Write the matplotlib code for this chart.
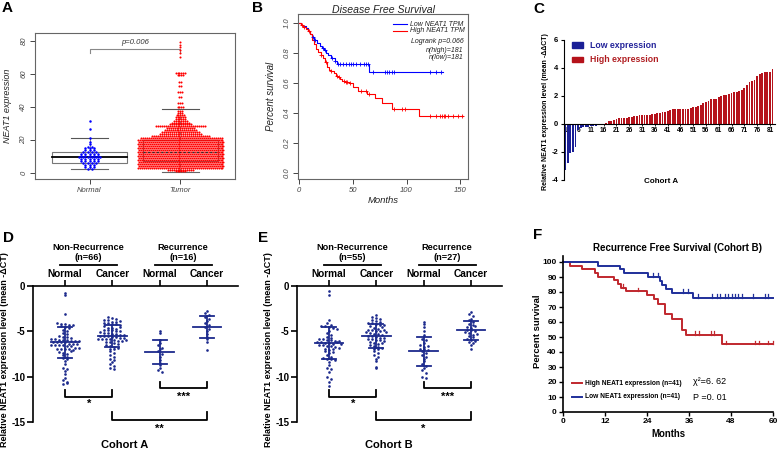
import numpy as np
import matplotlib
matplotlib.use('Agg')
import matplotlib.pyplot as plt
from matplotlib.patches import Rectangle

plt.rcParams['font.family'] = ['Liberation Sans', 'DejaVu Sans']

W, H = 778, 454

# ---------------- Panel A data ----------------
a_groups = ['Normal', 'Tumor']
a_normal_levels = [31.7, 26.5, 21.0, 19.0, 17.8, 16.0, 15.0, 13.8, 12.5, 11.6, 10.6, 9.6, 8.6, 7.4, 6.2, 5.0, 3.8, 2.6]
a_normal_counts = [1, 1, 1, 1, 1, 2, 3, 3, 4, 5, 5, 6, 5, 5, 4, 3, 3, 2]
a_tumor_levels = [1.0, 2.0, 3.0, 4.2, 5.4, 6.6, 7.8, 9.0, 10.2, 11.4, 12.6, 13.8, 15.0, 16.2, 17.4,
                  18.6, 19.8, 21.0, 22.2, 23.4, 24.6, 25.8, 27.0, 28.2, 29.4, 30.6, 31.8, 33.0,
                  34.2, 35.4, 36.6, 37.8, 39.8, 42.6, 46.2, 49.3, 52.7, 55.3, 59.5, 60.4,
                  70.5, 72.9, 74.5, 76.2, 77.6, 79.6]
a_tumor_counts = [6, 14, 44, 44, 44, 44, 44, 44, 44, 44, 44, 44, 44, 44, 44,
                  44, 44, 42, 30, 22, 20, 17, 15, 26, 12, 10, 8, 6,
                  6, 5, 3, 3, 4, 3, 2, 3, 2, 2, 4, 6,
                  1, 1, 1, 1, 1, 1]
a_normal_box = [2.2, 6.0, 9.5, 12.5, 21.0]   # low whisker, Q1, median, Q3, high whisker
a_tumor_box = [0.8, 7.5, 12.7, 20.0, 39.0]
a_ptext = 'p=0.006'

# ---------------- Panel B data ----------------
b_low_t = [0, 2, 4, 6, 8, 10, 12, 14, 17, 19, 21, 23, 25, 27, 30, 33, 35, 65, 134]
b_low_s = [1.0, 0.99, 0.98, 0.965, 0.95, 0.93, 0.905, 0.885, 0.87, 0.85, 0.835, 0.82, 0.80, 0.785, 0.77, 0.75, 0.73, 0.675, 0.675]
b_low_censor = [13, 15, 22, 24, 31, 33.5, 36, 38, 41, 44, 46, 48, 50, 53, 57, 60, 62, 64, 69, 80, 82, 84, 86, 88, 122, 127, 132]
b_high_t = [0, 2, 4, 6, 8, 10, 12, 14, 16, 18, 20, 22, 24, 26, 28, 30, 32, 34, 36, 38, 40, 43, 46, 50, 55, 63, 71, 77, 86, 111, 152]
b_high_s = [1.0, 0.99, 0.975, 0.96, 0.945, 0.925, 0.89, 0.86, 0.83, 0.805, 0.785, 0.765, 0.74, 0.71, 0.69, 0.68, 0.665, 0.65, 0.64, 0.63, 0.615, 0.605, 0.60, 0.575, 0.55, 0.53, 0.50, 0.465, 0.425, 0.38, 0.38]
b_high_censor = [3, 5, 9, 20, 25, 30, 35, 37, 42, 44, 45, 47, 58, 62, 65, 88, 96, 98, 122, 127, 131, 133, 135, 136, 138, 143, 148, 151]
b_legend = ['Low NEAT1 TPM', 'High NEAT1 TPM']
b_stats = ['Logrank p=0.066', 'n(high)=181', 'n(low)=181']

# ---------------- Panel C data ----------------
c_values = [-3.3, -2.8, -2.1, -2.0, -1.65, -0.45, -0.3, -0.22, -0.2, -0.18, -0.15, -0.14, -0.12, -0.1, -0.08,
            0.03, 0.1, 0.18, 0.25, 0.3, 0.38, 0.4, 0.42, 0.43, 0.45, 0.5, 0.52, 0.55, 0.58, 0.62,
            0.63, 0.65, 0.65, 0.66, 0.68, 0.75, 0.8, 0.82, 0.83, 0.85, 0.95, 1.0, 1.05, 1.05, 1.05,
            1.06, 1.07, 1.08, 1.1, 1.12, 1.19, 1.2, 1.29, 1.35, 1.48, 1.55, 1.65, 1.76, 1.78, 1.8,
            1.95, 2.0, 2.05, 2.1, 2.15, 2.25, 2.27, 2.3, 2.35, 2.45, 2.6, 2.8, 3.0, 3.1, 3.15,
            3.45, 3.57, 3.65, 3.7, 3.7, 3.75, 3.95]
c_ticks = list(range(1, 83, 5))
c_legend = ['Low expression', 'High expression']

# ---------------- Panel D / E data ----------------
de_cats = ['Normal', 'Cancer', 'Normal', 'Cancer']
d_norm_nr = [-0.8, -1.0, -3.1,
             -4.1, -4.2, -4.2, -4.3, -4.3, -4.4, -4.5, -4.6,
             -4.9, -5.0, -5.2, -5.3,
             -5.5, -5.6, -5.6, -5.7, -5.8, -5.8,
             -6.0, -6.0, -6.0, -6.1, -6.1, -6.1, -6.2, -6.2, -6.2, -6.2,
             -6.4, -6.4, -6.4, -6.5, -6.5, -6.5, -6.5, -6.6, -6.6,
             -6.8, -6.8, -6.9, -6.9, -7.0, -7.0, -7.1,
             -7.3, -7.4, -7.5, -7.6,
             -7.8, -7.9, -8.0,
             -8.3, -8.6, -9.0, -9.1, -9.4, -9.7,
             -10.2, -10.4, -10.6, -10.8, -10.7, -7.2]
d_canc_nr = [-3.4, -3.5, -3.6, -3.7, -3.8,
             -4.0, -4.0, -4.1, -4.1, -4.2, -4.2, -4.3, -4.4,
             -4.6, -4.6, -4.7, -4.8, -4.8, -4.9, -5.0,
             -5.1, -5.2, -5.2, -5.3, -5.3, -5.4, -5.4, -5.5, -5.5, -5.5,
             -5.6, -5.6, -5.7, -5.7, -5.8, -5.8, -5.9, -5.9, -6.0,
             -6.1, -6.1, -6.2, -6.2, -6.3, -6.4, -6.5,
             -6.6, -6.7, -6.8, -6.9, -7.0,
             -7.2, -7.4, -7.6, -7.8,
             -8.0, -8.2, -8.4, -8.6, -8.8, -9.0, -9.2,
             -4.5, -5.0, -6.0, -3.9]
d_norm_r = [-5.0, -5.2, -6.0, -6.3, -6.5, -6.8, -7.0, -7.2, -7.5, -7.8, -8.2, -8.5, -8.7, -9.0, -9.3, -9.5]
d_canc_r = [-2.8, -3.0, -3.2, -3.4, -3.6, -3.9, -4.1, -4.3, -4.5, -4.7, -5.0, -5.3, -5.6, -5.9, -6.2, -7.1]
d_means = [-6.2, -5.5, -7.3, -4.5]
d_sds = [1.7, 1.25, 1.35, 1.2]
d_headers = ['Non-Recurrence\n(n=66)', 'Recurrence\n(n=16)']
d_stars = ['*', '***', '**']

e_norm_nr = [-0.6, -1.0, -3.8,
             -4.1, -4.3, -4.4, -4.4, -4.5, -4.6,
             -5.0, -5.2, -5.4, -5.6,
             -5.8, -5.9, -6.0, -6.0, -6.1, -6.1, -6.2, -6.2, -6.3, -6.3, -6.4,
             -6.5, -6.5, -6.6, -6.6, -6.7, -6.8,
             -7.0, -7.1, -7.2, -7.4, -7.6,
             -7.8, -7.9, -8.0, -8.1,
             -8.4, -8.7, -9.0, -9.1,
             -9.5, -10.0, -10.3, -10.6, -11.0,
             -6.9, -5.7, -4.7, -6.2, -6.4, -7.3, -8.2]
e_canc_nr = [-3.2, -3.4, -3.5, -3.7, -3.9,
             -4.0, -4.1, -4.1, -4.2, -4.3, -4.3, -4.4,
             -4.6, -4.7, -4.8, -4.9, -5.0, -5.0,
             -5.1, -5.2, -5.3, -5.3, -5.4, -5.5, -5.5, -5.6,
             -5.7, -5.8, -5.9, -6.0, -6.0, -6.1, -6.2,
             -6.3, -6.4, -6.5, -6.6, -6.7,
             -6.8, -6.9, -7.0, -7.2,
             -7.4, -7.6, -7.8, -8.0, -8.3, -8.9, -9.0,
             -4.5, -5.1, -5.7, -6.3, -3.6, -4.9]
e_norm_r = [-4.0, -4.2, -4.5, -5.0, -5.4, -5.8, -6.0, -6.3, -6.5, -6.7, -6.9, -7.0, -7.1, -7.2,
            -7.4, -7.6, -7.8, -8.0, -8.3, -8.6, -8.8, -9.0, -9.3, -9.6, -10.0, -10.2, -6.6]
e_canc_r = [-2.9, -3.1, -3.3, -3.6, -3.8, -4.0, -4.2, -4.3, -4.5, -4.6, -4.8, -4.9, -5.0, -5.1,
            -5.2, -5.4, -5.5, -5.6, -5.8, -6.0, -6.1, -6.2, -6.3, -6.5, -6.9, -4.4, -5.3]
e_means = [-6.3, -5.5, -7.2, -4.9]
e_sds = [1.8, 1.35, 1.6, 1.05]
e_headers = ['Non-Recurrence\n(n=55)', 'Recurrence\n(n=27)']
e_stars = ['*', '***', '*']

# ---------------- Panel F data ----------------
f_low_t = [0, 10, 16.3, 17.3, 24.4, 27.7, 28.2, 29.4, 31, 37.2, 60]
f_low_s = [100, 97.6, 95.1, 92.7, 90.2, 87.6, 84.9, 82.2, 79.4, 76.2, 76.2]
f_low_censor = [25.6, 27.0, 34.4, 35.8, 38.7, 42.5, 43.9, 44.9, 46.3, 47.2, 48.2, 49.1, 50.1, 51.0, 54.4, 57.7, 58.7]
f_high_t = [0, 2, 5.3, 9.1, 10.1, 14.5, 15.7, 16.6, 18, 24, 26, 27, 29, 31, 34, 35, 45.5, 60]
f_high_s = [100, 97.6, 95.1, 92.7, 90.2, 87.8, 85.4, 82.9, 80.5, 78.0, 75.4, 72.0, 65.2, 61.8, 55.0, 51.5, 45.3, 45.3]
f_high_censor = [17.2, 21.3, 37.7, 38.9, 42.4, 43.1, 46.5, 54.9, 55.9, 58.7, 60]
f_legend = ['High NEAT1 expression (n=41)', 'Low NEAT1 expression (n=41)']
f_stats = ['χ²=6. 62', 'P =0. 01']

# ---------------- helpers ----------------
NAVY = '#1c2a8c'
DRED = '#b5121b'
DBLUE = '#1a1f96'


def fax(x0, y0, x1, y1):
    return fig.add_axes([x0 / W, 1 - y1 / H, (x1 - x0) / W, (y1 - y0) / H])


def row_positions(vals, center, bin_h, dx):
    vals = np.asarray(vals, float)
    keys = np.round(vals / bin_h).astype(int)
    xs = np.zeros_like(vals)
    for k in np.unique(keys):
        idx = np.where(keys == k)[0]
        n = len(idx)
        xs[idx] = center + (np.arange(n) - (n - 1) / 2) * dx
    return xs


def step_at(t, s, c):
    t = np.asarray(t)
    s = np.asarray(s)
    i = np.searchsorted(t, c, side='right') - 1
    return s[np.clip(i, 0, len(s) - 1)]


fig = plt.figure(figsize=(W / 100, H / 100), dpi=100)

# ================= Panel A =================
axA = fax(35, 33, 235, 179)
axA.set_xlim(0.4, 2.6)
axA.set_ylim(-3.6, 84.8)
for ctr, bx in zip([1, 2], [a_normal_box, a_tumor_box]):
    lo, q1, med, q3, hi = bx
    axA.add_patch(Rectangle((ctr - 0.41, q1), 0.82, q3 - q1, facecolor='white',
                            edgecolor='#777777', lw=0.8, zorder=1))
    axA.plot([ctr, ctr], [lo, q1], color='#888888', lw=0.7, ls='--', zorder=1)
    axA.plot([ctr, ctr], [q3, hi], color='#888888', lw=0.7, ls='--', zorder=1)
    axA.plot([ctr - 0.2, ctr + 0.2], [lo, lo], color='#666666', lw=0.8, zorder=1)
    axA.plot([ctr - 0.2, ctr + 0.2], [hi, hi], color='#555555', lw=0.8, zorder=4 if ctr == 2 else 1)
    if ctr == 1:
        axA.plot([ctr - 0.41, ctr + 0.41], [med, med], color='black', lw=1.3, zorder=2)

# normal swarm
nx, ny = [], []
for i, (lev, cnt) in enumerate(zip(a_normal_levels, a_normal_counts)):
    for k in range(cnt):
        nx.append(1 + (k - (cnt - 1) / 2) * 0.045)
        ny.append(lev)
axA.scatter(nx, ny, s=3.2, color='#0000ff', linewidths=0, zorder=3)
# tumor swarm
tx, ty = [], []
for i, (lev, cnt) in enumerate(zip(a_tumor_levels, a_tumor_counts)):
    shift = 0.011 if i % 2 else 0.0
    for k in range(cnt):
        tx.append(2 + (k - (cnt - 1) / 2) * 0.0215 + shift * (cnt > 30))
        ty.append(lev)
axA.scatter(tx, ty, s=2.2, color='#ff0000', linewidths=0, zorder=3)
axA.plot([2 - 0.41, 2 + 0.41], [a_tumor_box[2]] * 2, color='#333333', lw=0.8, ls=(0, (2, 2)), zorder=4)

axA.plot([1, 1, 2, 2], [72.5, 75, 75, 72.5], color='#888888', lw=0.8)
axA.text(1.5, 79, a_ptext, ha='center', va='center', fontsize=5.5, style='italic', color='#333333')
axA.set_yticks([0, 20, 40, 60, 80])
axA.set_yticklabels(['0', '20', '40', '60', '80'], rotation=90, va='center', fontsize=5.5, style='italic')
axA.set_xticks([1, 2])
axA.set_xticklabels(a_groups, fontsize=5.5, style='italic')
axA.tick_params(length=3.5, width=0.7, colors='#444444', pad=2)
for sp in axA.spines.values():
    sp.set_color('#666666')
    sp.set_linewidth(0.8)
axA.text((7.5 - 35) / 200, 0.5, 'NEAT1 expression', transform=axA.transAxes, rotation=90,
         ha='center', va='center', fontsize=6.5, style='italic', color='#222222')

# ================= Panel B =================
axB = fax(298, 14, 468, 179)
axB.set_xlim(-1, 157)
axB.set_ylim(-0.04, 1.06)
axB.step(b_low_t, b_low_s, where='post', color='#0000ff', lw=0.8)
axB.step(b_high_t, b_high_s, where='post', color='#ff0000', lw=0.8)
axB.plot(b_low_censor, step_at(b_low_t, b_low_s, b_low_censor), ls='none', marker='+',
         ms=3.5, mew=0.6, color='#0000ff')
axB.plot(b_high_censor, step_at(b_high_t, b_high_s, b_high_censor), ls='none', marker='+',
         ms=3.5, mew=0.6, color='#ff0000')
axB.plot([87, 100], [0.993, 0.993], color='#0000ff', lw=0.8)
axB.plot([87, 100], [0.947, 0.947], color='#ff0000', lw=0.8)
axB.text(103, 0.993, b_legend[0], fontsize=5, style='italic', va='center', color='#222222')
axB.text(103, 0.947, b_legend[1], fontsize=5, style='italic', va='center', color='#222222')
for yy, s in zip([0.875, 0.82, 0.768], b_stats):
    axB.text(153, yy, s, fontsize=5, style='italic', va='center', ha='right', color='#222222')
axB.set_yticks([0, 0.2, 0.4, 0.6, 0.8, 1.0])
axB.set_yticklabels(['0.0', '0.2', '0.4', '0.6', '0.8', '1.0'], rotation=90, va='center',
                    fontsize=5.5, style='italic')
axB.set_xticks([0, 50, 100, 150])
axB.set_xticklabels(['0', '50', '100', '150'], fontsize=5.5, style='italic')
axB.tick_params(length=3.5, width=0.7, colors='#444444', pad=2)
for sp in axB.spines.values():
    sp.set_color('#666666')
    sp.set_linewidth(0.8)
axB.text((271 - 298) / 170, 0.5, 'Percent survival', transform=axB.transAxes, rotation=90,
         ha='center', va='center', fontsize=7, style='italic', color='#222222')
axB.text(0.5, (179 - 200) / 165, 'Months', transform=axB.transAxes, ha='center', va='center',
         fontsize=6.8, style='italic', color='#222222')
axB.text(0.5, (179 - 10) / 165, 'Disease Free Survival', transform=axB.transAxes, ha='center',
         va='center', fontsize=7.6, style='italic', color='#222222')

# ================= Panel C =================
axC = fax(564, 40, 775, 180)
axC.set_xlim(0.5, 83)
axC.set_ylim(-4, 6)
xc = np.arange(1, len(c_values) + 1)
cols = [DBLUE if v < 0 else DRED for v in c_values]
axC.bar(xc, c_values, width=0.72, color=cols, zorder=2)
axC.set_axisbelow(True)
axC.spines['top'].set_visible(False)
axC.spines['right'].set_visible(False)
axC.spines['bottom'].set_position(('data', 0))
axC.spines['bottom'].set_zorder(3)
axC.set_yticks([-4, -2, 0, 2, 4, 6])
axC.set_yticklabels(['-4', '-2', '0', '2', '4', '6'], fontsize=5.5, fontweight='bold')
axC.set_xticks(c_ticks)
axC.set_xticklabels([str(t) for t in c_ticks], fontsize=4.7, fontweight='bold')
axC.tick_params(axis='y', length=2.5, width=0.8, pad=1.5)
axC.tick_params(axis='x', length=1.5, width=0.6, pad=1)
axC.add_patch(Rectangle((3.7, 5.64 - 0.19), 4.3, 0.38, color=DBLUE, clip_on=False))
axC.add_patch(Rectangle((3.7, 4.62 - 0.19), 4.3, 0.38, color=DRED, clip_on=False))
axC.text(10.7, 5.64, c_legend[0], fontsize=6.3, fontweight='bold', color='#23239a', va='center')
axC.text(10.7, 4.62, c_legend[1], fontsize=6.3, fontweight='bold', color='#b01e22', va='center')
axC.text(0.458, -0.014, 'Cohort A', transform=axC.transAxes, ha='center', va='center',
         fontsize=5.8, fontweight='bold')
axC.text(-0.09, 0.488, 'Relative NEAT1 expression level (mean -ΔΔCT)', transform=axC.transAxes,
         rotation=90, ha='center', va='center', fontsize=5.0, fontweight='bold')


# ================= Panels D & E =================
def draw_scatter_panel(ax, groups, means, sds, headers, stars, xlabel):
    ax.set_xlim(0.32, 4.66)
    ax.set_ylim(-15, 0)
    for i, vals in enumerate(groups):
        c = i + 1
        xs = row_positions(vals, c, 0.35, 0.085)
        ax.scatter(xs, vals, s=3.6, color=NAVY, linewidths=0, zorder=3)
        m, sd = means[i], sds[i]
        ax.plot([c - 0.3, c + 0.3], [m, m], color=NAVY, lw=1.3, zorder=4)
        ax.plot([c, c], [m - sd, m + sd], color=NAVY, lw=1.3, zorder=4)
        for yy in (m - sd, m + sd):
            ax.plot([c - 0.15, c + 0.15], [yy, yy], color=NAVY, lw=1.3, zorder=4)
    for sp in ['bottom', 'right']:
        ax.spines[sp].set_visible(False)
    ax.spines['top'].set_linewidth(1.2)
    ax.spines['left'].set_linewidth(1.2)
    ax.xaxis.tick_top()
    ax.set_xticks([1, 2, 3, 4])
    ax.set_xticklabels([])
    ax.tick_params(axis='x', direction='out', length=4, width=1.2)
    ax.set_yticks([0, -5, -10, -15])
    ax.set_yticklabels(['0', '-5', '-10', '-15'], fontsize=7, fontweight='bold')
    ax.tick_params(axis='y', length=4, width=1.2, pad=1.5)
    for i, name in enumerate(de_cats):
        ax.text(i + 1, 1.32, name, ha='center', va='center', fontsize=7.3, fontweight='bold',
                clip_on=False)
    for j, hd in enumerate(headers):
        cx = 1.5 + 2 * j
        t1, t2 = hd.split('\n')
        ax.text(cx, 4.2, t1, ha='center', va='center', fontsize=6.6, fontweight='bold', clip_on=False)
        ax.text(cx, 3.1, t2, ha='center', va='center', fontsize=6.6, fontweight='bold', clip_on=False)
        ax.plot([cx - 0.6, cx + 0.6], [2.3, 2.3], color='black', lw=1.3, clip_on=False)
    brackets = [(1, 2, -11.5, -12.2, -13.0), (3, 4, -10.6, -11.2, -12.2), (2, 4, -13.9, -14.8, -15.7)]
    for (a, b, top, bot, sy), st in zip(brackets, stars):
        ax.plot([a, a, b, b], [top, bot, bot, top], color='black', lw=1.3, clip_on=False)
        ax.text((a + b) / 2, sy, st, ha='center', va='center', fontsize=8, fontweight='bold',
                clip_on=False)
    ax.text(0.449, -0.17, xlabel, transform=ax.transAxes, ha='center', va='center',
            fontsize=8, fontweight='bold')
    ax.text(-0.137, 0.53, 'Relative NEAT1 expression level (mean -ΔCT)', transform=ax.transAxes,
            rotation=90, ha='center', va='center', fontsize=6.5, fontweight='bold')


axD = fax(33, 286, 238, 422)
draw_scatter_panel(axD, [d_norm_nr, d_canc_nr, d_norm_r, d_canc_r], d_means, d_sds,
                   d_headers, d_stars, 'Cohort A')
axE = fax(297, 286, 502, 422)
draw_scatter_panel(axE, [e_norm_nr, e_canc_nr, e_norm_r, e_canc_r], e_means, e_sds,
                   e_headers, e_stars, 'Cohort B')

# ================= Panel F =================
axF = fax(563, 256, 773, 412)
axF.set_xlim(0, 60)
axF.set_ylim(0, 104)
FRED = '#c0272d'
FBLUE = '#1f2f9a'
axF.step(f_high_t, f_high_s, where='post', color=FRED, lw=1.4, clip_on=False)
axF.step(f_low_t, f_low_s, where='post', color=FBLUE, lw=1.4, clip_on=False)
for cens, t, s, col in [(f_high_censor, f_high_t, f_high_s, FRED), (f_low_censor, f_low_t, f_low_s, FBLUE)]:
    ys = step_at(t, s, cens)
    for c, y in zip(cens, ys):
        axF.plot([c, c], [y, y + 2.3], color=col, lw=0.9, clip_on=False)
axF.spines['top'].set_visible(False)
axF.spines['right'].set_visible(False)
axF.spines['left'].set_linewidth(1.2)
axF.spines['bottom'].set_linewidth(1.2)
axF.set_yticks(range(0, 101, 10))
axF.set_yticklabels([str(v) for v in range(0, 101, 10)], fontsize=6, fontweight='bold')
axF.set_xticks([0, 12, 24, 36, 48, 60])
axF.set_xticklabels(['0', '12', '24', '36', '48', '60'], fontsize=6, fontweight='bold')
axF.tick_params(length=3, width=1.0, pad=1.5)
axF.plot([2.6, 5.4], [19.3, 19.3], color=FRED, lw=1.4)
axF.plot([2.6, 5.4], [10.2, 10.2], color=FBLUE, lw=1.4)
axF.text(6.3, 19.3, f_legend[0], fontsize=4.8, fontweight='bold', va='center')
axF.text(6.3, 10.2, f_legend[1], fontsize=4.8, fontweight='bold', va='center')
axF.text(37.1, 20, f_stats[0], fontsize=6.5, va='center')
axF.text(37.1, 9.5, f_stats[1], fontsize=6.5, va='center')
axF.text(0.543, (412 - 248) / 156, 'Recurrence Free Survival (Cohort B)', transform=axF.transAxes,
         ha='center', va='center', fontsize=7, fontweight='bold')
axF.text(-0.12, 0.515, 'Percent survival', transform=axF.transAxes, rotation=90, ha='center',
         va='center', fontsize=6.8, fontweight='bold')
axF.text(0.503, -0.141, 'Months', transform=axF.transAxes, ha='center', va='center',
         fontsize=6.9, fontweight='bold')

# panel letters
for lab, x, y in [('A', 2, 8), ('B', 252, 8), ('C', 533, 9), ('D', 3, 238), ('E', 258, 238), ('F', 533, 235)]:
    fig.text(x / W, 1 - y / H, lab, fontsize=11, fontweight='bold', va='center', ha='left')

fig.savefig('out.png', dpi=100)
